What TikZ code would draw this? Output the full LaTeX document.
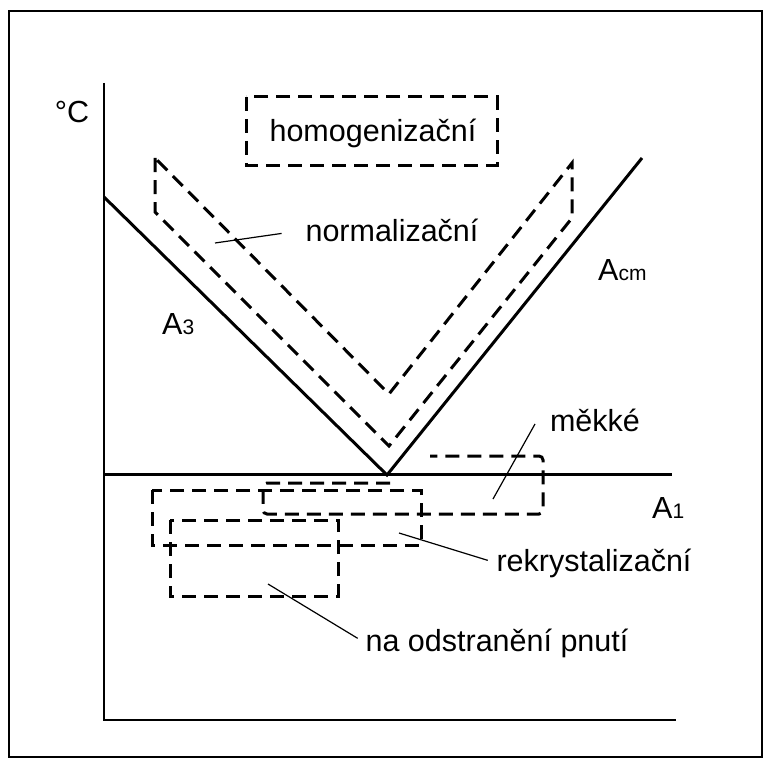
\documentclass[tikz,border=0pt]{standalone}
\usepackage{fontspec}
\setmainfont{Liberation Sans}
\begin{document}
\begin{tikzpicture}[x=1pt,y=-1pt,
  lbl/.style={inner sep=0pt,font=\fontsize{30.5}{36}\selectfont},
  axis/.style={line width=2pt},
  phase/.style={line width=3pt},
  zone/.style={line width=3pt,dash pattern=on 14pt off 8pt},
  leader/.style={line width=1.2pt}]
\useasboundingbox (0,0) rectangle (771,765);
\newcommand{\sub}[1]{{\fontsize{21}{24}\selectfont #1}}
% outer frame
\draw[line width=2pt] (9,11) rectangle (762,757);
% axes
\coordinate (top) at (104,83);
\coordinate (origin) at (104,720);
\coordinate (xend) at (676,720);
\draw[axis] (top) -- (origin) -- (xend);
% phase lines A1, A3, Acm
\coordinate (a1l) at (104,474);
\coordinate (a1r) at (672,474);
\coordinate (a3top) at (104,197);
\coordinate (eut) at (387,475);
\coordinate (acmtop) at (642,158);
\draw[phase] (a1l) -- (a1r);
\draw[phase] (a3top) -- (eut) -- (acmtop);
% normalizing band
\draw[zone] (155,158) -- (155,212) -- (389,446) -- (572,218) -- (572,163) -- (389,394) -- cycle;
% homogenizing box
\node[lbl] (homog) at (373,133) {homogenizační};
\draw[zone] (246,97) rectangle (497,165);
% soft annealing zone
\draw[zone,rounded corners=4pt] (390,483) -- (263,483) -- (263,514) -- (543,514) -- (543,456) -- (430,456);
% recrystallization and stress relief boxes
\draw[zone] (152,490) rectangle (421,545);
\draw[zone] (170,520) rectangle (338,596);
% labels
\node[lbl] (degc) at (72,112) {°C};
\node[lbl,anchor=base west] (a3) at (162,334) {A\sub{3}};
\node[lbl,anchor=base west] (acm) at (598,280) {A\sub{cm}};
\node[lbl,anchor=base west] (a1) at (652,518) {A\sub{1}};
\node[lbl] (norm) at (392,230) {normalizační};
\node[lbl] (mek) at (595,420) {měkké};
\node[lbl] (rek) at (594,563) {rekrystalizační};
\node[lbl] (pnuti) at (497,643) {na odstranění pnutí};
% leader lines
\coordinate (normtip) at (215,243);
\coordinate (mektip) at (493,499);
\coordinate (mekend) at (535,424);
\coordinate (rektip) at (399,533);
\coordinate (pnutitip) at (268,584);
\draw[leader,shorten >=24pt] (normtip) -- (norm.west);
\draw[leader] (mektip) -- (mekend);
\draw[leader,shorten >=9pt] (rektip) -- (rek.west);
\draw[leader,shorten >=9pt] (pnutitip) -- (pnuti.west);
\end{tikzpicture}
\end{document}
